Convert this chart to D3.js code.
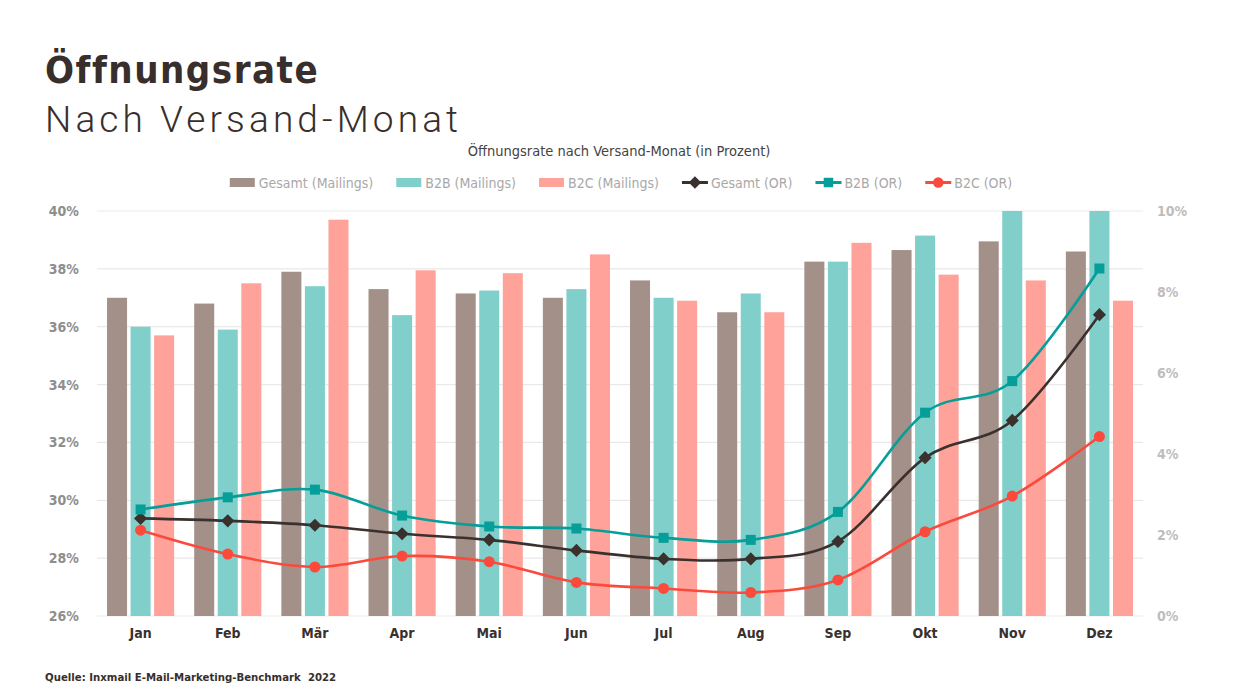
<!DOCTYPE html>
<html>
<head>
<meta charset="utf-8">
<script src="https://cdn.jsdelivr.net/npm/d3@7"></script>
<style>
  body { margin: 0; background: #fff; }
  svg { display: block; }
</style>
</head>
<body>
<script>
const width = 1240, height = 698;
const condensed = "'DejaVu Sans Condensed', 'DejaVu Sans', sans-serif";

// data
const months = ["Jan","Feb","Mär","Apr","Mai","Jun","Jul","Aug","Sep","Okt","Nov","Dez"];
const gesamtMailings = [37.0, 36.8, 37.9, 37.3, 37.15, 37.0, 37.6, 36.5, 38.25, 38.65, 38.95, 38.6];
const b2bMailings    = [36.0, 35.9, 37.4, 36.4, 37.25, 37.3, 37.0, 37.15, 38.25, 39.15, 40.6, 40.8];
const b2cMailings    = [35.7, 37.5, 39.7, 37.95, 37.85, 38.5, 36.9, 36.5, 38.9, 37.8, 37.6, 36.9];
const gesamtOR = [2.41, 2.35, 2.24, 2.03, 1.88, 1.62, 1.41, 1.41, 1.84, 3.91, 4.83, 7.44];
const b2bOR    = [2.63, 2.93, 3.12, 2.48, 2.21, 2.16, 1.93, 1.88, 2.57, 5.02, 5.80, 8.58];
const b2cOR    = [2.12, 1.53, 1.21, 1.48, 1.34, 0.83, 0.68, 0.58, 0.89, 2.08, 2.96, 4.43];
const leftTicks = [26, 28, 30, 32, 34, 36, 38, 40];
const rightTicks = [0, 2, 4, 6, 8, 10];

const barSeries = [
  {name: "Gesamt (Mailings)", values: gesamtMailings, color: "#a39089"},
  {name: "B2B (Mailings)", values: b2bMailings, color: "#80cfca"},
  {name: "B2C (Mailings)", values: b2cMailings, color: "#fea29a"}
];
const lineSeries = [
  {name: "Gesamt (OR)", values: gesamtOR, color: "#3a302e", shape: d3.symbolDiamond2, size: 110},
  {name: "B2B (OR)", values: b2bOR, color: "#069e98", shape: d3.symbolSquare, size: 100},
  {name: "B2C (OR)", values: b2cOR, color: "#fb4a3c", shape: d3.symbolCircle, size: 95}
];

const plot = {left: 97, right: 1143, top: 211, bottom: 616};

const svg = d3.select("body").append("svg")
    .attr("width", width)
    .attr("height", height);

// titles
svg.append("text")
    .attr("x", 45).attr("y", 83)
    .attr("font-family", condensed)
    .attr("font-weight", "bold")
    .attr("font-size", 38)
    .attr("letter-spacing", 1.5)
    .attr("fill", "#382e2b")
    .text("Öffnungsrate");

svg.append("text")
    .attr("x", 45).attr("y", 132)
    .attr("font-family", "Roboto, sans-serif")
    .attr("font-weight", 300)
    .attr("font-size", 37)
    .attr("textLength", 413)
    .attr("lengthAdjust", "spacing")
    .attr("fill", "#382e2b")
    .text("Nach Versand-Monat");

svg.append("text")
    .attr("x", 619).attr("y", 156)
    .attr("text-anchor", "middle")
    .attr("font-family", condensed)
    .attr("font-size", 14.5)
    .attr("fill", "#444")
    .text("Öffnungsrate nach Versand-Monat (in Prozent)");

// scales
const x0 = d3.scaleBand()
    .domain(months)
    .range([plot.left, plot.right])
    .paddingInner(0.23)
    .paddingOuter(0.115);

const x1 = d3.scaleBand()
    .domain(barSeries.map(d => d.name))
    .range([0, x0.bandwidth()])
    .paddingInner(0.15);

const yLeft = d3.scaleLinear()
    .domain([26, 40])
    .range([plot.bottom, plot.top])
    .clamp(true);

const yRight = d3.scaleLinear()
    .domain([0, 10])
    .range([plot.bottom, plot.top]);

// gridlines
svg.append("g")
    .selectAll("line")
    .data(leftTicks)
    .enter()
    .append("line")
    .attr("x1", plot.left)
    .attr("x2", plot.right)
    .attr("y1", d => yLeft(d))
    .attr("y2", d => yLeft(d))
    .attr("stroke", "#e9e9e9")
    .attr("stroke-width", 1.2);

// left axis
svg.append("g")
    .attr("transform", `translate(${plot.left - 15},0)`)
    .call(d3.axisLeft(yLeft).tickValues(leftTicks).tickFormat(d => d + "%").tickSize(0))
    .call(g => g.select(".domain").remove())
    .selectAll("text")
    .attr("font-family", condensed)
    .attr("font-weight", "bold")
    .attr("font-size", 14)
    .attr("fill", "#8e8e8e");

// right axis
svg.append("g")
    .attr("transform", `translate(${plot.right + 14},0)`)
    .call(d3.axisRight(yRight).tickValues(rightTicks).tickFormat(d => d + "%").tickSize(0).tickPadding(0))
    .call(g => g.select(".domain").remove())
    .selectAll("text")
    .attr("font-family", condensed)
    .attr("font-weight", "bold")
    .attr("font-size", 14)
    .attr("fill", "#bdbdbd");

// x axis
svg.append("g")
    .attr("transform", `translate(0,${plot.bottom})`)
    .call(d3.axisBottom(x0).tickSize(0).tickPadding(12))
    .call(g => g.select(".domain").remove())
    .selectAll("text")
    .attr("font-family", condensed)
    .attr("font-weight", "bold")
    .attr("font-size", 14)
    .attr("fill", "#3a302e");

// bars
const groups = svg.append("g")
    .selectAll("g")
    .data(months)
    .enter()
    .append("g")
    .attr("transform", d => `translate(${x0(d)},0)`);

groups.selectAll("rect")
    .data((m, i) => barSeries.map(s => ({name: s.name, color: s.color, value: s.values[i]})))
    .enter()
    .append("rect")
    .attr("x", d => x1(d.name))
    .attr("width", x1.bandwidth())
    .attr("y", d => yLeft(d.value))
    .attr("height", d => plot.bottom - yLeft(d.value))
    .attr("fill", d => d.color);

// lines
const line = d3.line()
    .x((d, i) => x0(months[i]) + x0.bandwidth() / 2)
    .y(d => yRight(d))
    .curve(d3.curveCardinal.tension(0));

lineSeries.forEach(s => {
    svg.append("path")
        .datum(s.values)
        .attr("fill", "none")
        .attr("stroke", s.color)
        .attr("stroke-width", 2.6)
        .attr("d", line);

    svg.append("g")
        .selectAll("path")
        .data(s.values)
        .enter()
        .append("path")
        .attr("transform", (d, i) => `translate(${x0(months[i]) + x0.bandwidth() / 2},${yRight(d)})`)
        .attr("d", d3.symbol().type(s.shape).size(s.size))
        .attr("fill", s.color);
});

// legend
const legend = svg.append("g");
let lx = 0;
const legendItems = barSeries.map(s => ({...s, kind: "bar"})).concat(lineSeries.map(s => ({...s, kind: "line"})));
legendItems.forEach(item => {
    const g = legend.append("g").attr("transform", `translate(${lx},0)`);
    if (item.kind === "bar") {
        g.append("rect")
            .attr("x", 0).attr("y", -10)
            .attr("width", 25).attr("height", 9)
            .attr("fill", item.color);
    } else {
        g.append("line")
            .attr("x1", 0).attr("x2", 26)
            .attr("y1", -5.5).attr("y2", -5.5)
            .attr("stroke", item.color)
            .attr("stroke-width", 3);
        g.append("path")
            .attr("transform", "translate(13,-5.5)")
            .attr("d", d3.symbol().type(item.shape).size(item.size * 0.9))
            .attr("fill", item.color);
    }
    const t = g.append("text")
        .attr("x", 29).attr("y", 0)
        .attr("font-family", condensed)
        .attr("font-size", 14)
        .attr("fill", "#a8a8a8")
        .text(item.name);
    lx += 29 + t.node().getComputedTextLength() + 23;
});
const legendWidth = lx - 23;
legend.attr("transform", `translate(${621 - legendWidth / 2},188)`);

// source
svg.append("text")
    .attr("x", 45).attr("y", 681)
    .attr("font-family", condensed)
    .attr("font-weight", "bold")
    .attr("font-size", 11.3)
    .attr("fill", "#382e2b")
    .attr("xml:space", "preserve")
    .text("Quelle: Inxmail E-Mail-Marketing-Benchmark  2022");
</script>
</body>
</html>
